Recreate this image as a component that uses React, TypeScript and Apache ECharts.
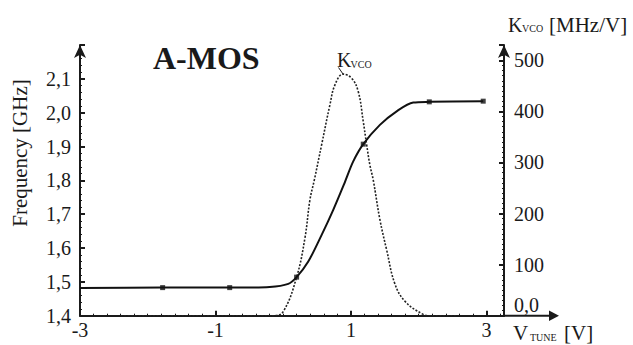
import React, { useEffect, useRef } from "react";
import * as echarts from "echarts";

const freqCurve: [number, number][] = [
  [-3, 1.482], [-1.78, 1.483], [-0.79, 1.483], [-0.2, 1.485], [0.075, 1.494],
  [0.198, 1.514], [0.37, 1.56], [0.568, 1.639], [0.739, 1.713], [0.911, 1.795],
  [1.034, 1.856], [1.182, 1.907], [1.428, 1.964], [1.675, 2.004], [1.92, 2.03],
  [2.157, 2.032], [2.953, 2.034],
];
const freqMarkers: [number, number][] = [
  [-1.78, 1.483], [-0.79, 1.483], [0.198, 1.514], [1.182, 1.907], [2.157, 2.032], [2.953, 2.034],
];
const kvcoCurve: [number, number][] = [
  [-2.4, 0], [-0.15, 0], [0.0, 8], [0.199, 76], [0.321, 152], [0.395, 227], [0.46, 266],
  [0.568, 335], [0.69, 413], [0.764, 452], [0.886, 473], [1.01, 465], [1.108, 439],
  [1.182, 380], [1.232, 335], [1.28, 295], [1.329, 266], [1.428, 188], [1.527, 129],
  [1.65, 62], [1.8, 28], [2.06, 3], [2.17, 0], [2.55, 0],
];
const xTicks = { min: -3, max: 3.26, interval: 2 };
const leftTicks = { min: 1.4, max: 2.2, interval: 0.1 };
const rightTicks = { min: 0, max: 530, interval: 100 };

const FONT = "'Liberation Serif', 'Times New Roman', serif";
const INK = "#1a1a1a";

export default function App() {
  const ref = useRef<HTMLDivElement>(null);
  useEffect(() => {
    const chart = echarts.init(ref.current!, null, { renderer: "svg" });
    const axisLbl = { fontFamily: FONT, fontSize: 20, color: INK };
    const txt = (text: string, x: number, y: number, fontSize: number, extra: any = {}) => ({
      type: "text",
      x,
      y,
      style: { text, fontFamily: FONT, fontSize, fill: INK, verticalAlign: "middle", ...extra },
    });
    chart.setOption({
      animation: false,
      backgroundColor: "#fff",
      grid: { left: 80, right: 129, top: 45, bottom: 29.3 },
      xAxis: {
        type: "value",
        min: xTicks.min,
        max: xTicks.max,
        interval: xTicks.interval,
        axisLine: { show: true, onZero: false, lineStyle: { color: INK, width: 2 } },
        axisTick: { show: true, inside: true, length: 5, lineStyle: { color: INK, width: 2 } },
        minorTick: { show: true, splitNumber: 10, length: 2, lineStyle: { color: INK, width: 1 } },
        splitLine: { show: false },
        axisLabel: {
          ...axisLbl,
          margin: 4,
          showMaxLabel: false,
          formatter: (v: number) => (v < 0 ? "-" + Math.abs(v) : String(v)),
        },
      },
      yAxis: [
        {
          type: "value",
          min: leftTicks.min,
          max: leftTicks.max,
          interval: leftTicks.interval,
          position: "left",
          axisLine: {
            show: true,
            onZero: false,
            symbol: ["none", "arrow"],
            symbolSize: [9, 13],
            lineStyle: { color: INK, width: 2 },
          },
          axisTick: { show: true, inside: true, length: 5, lineStyle: { color: INK, width: 2 } },
          minorTick: { show: true, splitNumber: 5, length: 2, lineStyle: { color: INK, width: 1 } },
          splitLine: { show: false },
          axisLabel: {
            ...axisLbl,
            margin: 9,
            showMaxLabel: false,
            formatter: (v: number) => v.toFixed(1).replace(".", ","),
          },
        },
        {
          type: "value",
          min: rightTicks.min,
          max: rightTicks.max,
          interval: rightTicks.interval,
          position: "right",
          axisLine: {
            show: true,
            onZero: false,
            symbol: ["none", "arrow"],
            symbolSize: [9, 13],
            lineStyle: { color: INK, width: 2 },
          },
          axisTick: { show: true, inside: true, length: 5, lineStyle: { color: INK, width: 2 } },
          minorTick: { show: true, splitNumber: 10, length: 2, lineStyle: { color: INK, width: 1 } },
          splitLine: { show: false },
          axisLabel: {
            ...axisLbl,
            margin: 10,
            showMaxLabel: false,
            formatter: (v: number) => (v === 0 ? "{z|0,0}" : String(v)),
            rich: { z: { fontFamily: FONT, fontSize: 20, color: INK, padding: [0, 0, 22, 0] } },
          },
        },
      ],
      series: [
        {
          type: "line",
          name: "Kvco",
          yAxisIndex: 1,
          data: kvcoCurve,
          smooth: 0.4,
          symbol: "none",
          lineStyle: { color: "#222", width: 1.6, type: [2, 1.6] },
        },
        {
          type: "line",
          name: "Frequency",
          yAxisIndex: 0,
          data: freqCurve,
          smooth: 0.3,
          symbol: "none",
          lineStyle: { color: "#111", width: 2 },
        },
        {
          type: "scatter",
          yAxisIndex: 0,
          data: freqMarkers,
          symbol: "rect",
          symbolSize: 5,
          itemStyle: { color: "#111" },
        },
      ],
      graphic: [
        { type: "line", shape: { x1: 503, y1: 315.7, x2: 551, y2: 315.7 }, style: { stroke: INK, lineWidth: 2 } },
        { type: "polygon", shape: { points: [[549, 310.5], [559, 315.7], [549, 320.9]] }, style: { fill: INK } },
        txt("A-MOS", 153, 57.5, 32, { fontWeight: "bold" }),
        {
          type: "text", x: 20, y: 153, rotation: Math.PI / 2,
          style: { text: "Frequency [GHz]", fontFamily: FONT, fontSize: 21, fill: INK, align: "center", verticalAlign: "middle" },
        },
        txt("K", 508, 25, 20),
        txt("VCO", 522, 28.5, 10),
        txt("[MHz/V]", 549, 25, 21),
        txt("K", 337, 60, 20),
        txt("VCO", 350.5, 64, 10),
        { type: "line", shape: { x1: 338.5, y1: 67.5, x2: 343, y2: 74 }, style: { stroke: INK, lineWidth: 1 } },
        txt("V", 513, 333, 21),
        txt("TUNE", 530, 337, 10),
        txt("[V]", 564, 333, 21),
      ],
    });
    return () => chart.dispose();
  }, []);
  return <div ref={ref} style={{ width: 633, height: 345, position: "absolute", left: 0, top: 0 }} />;
}
